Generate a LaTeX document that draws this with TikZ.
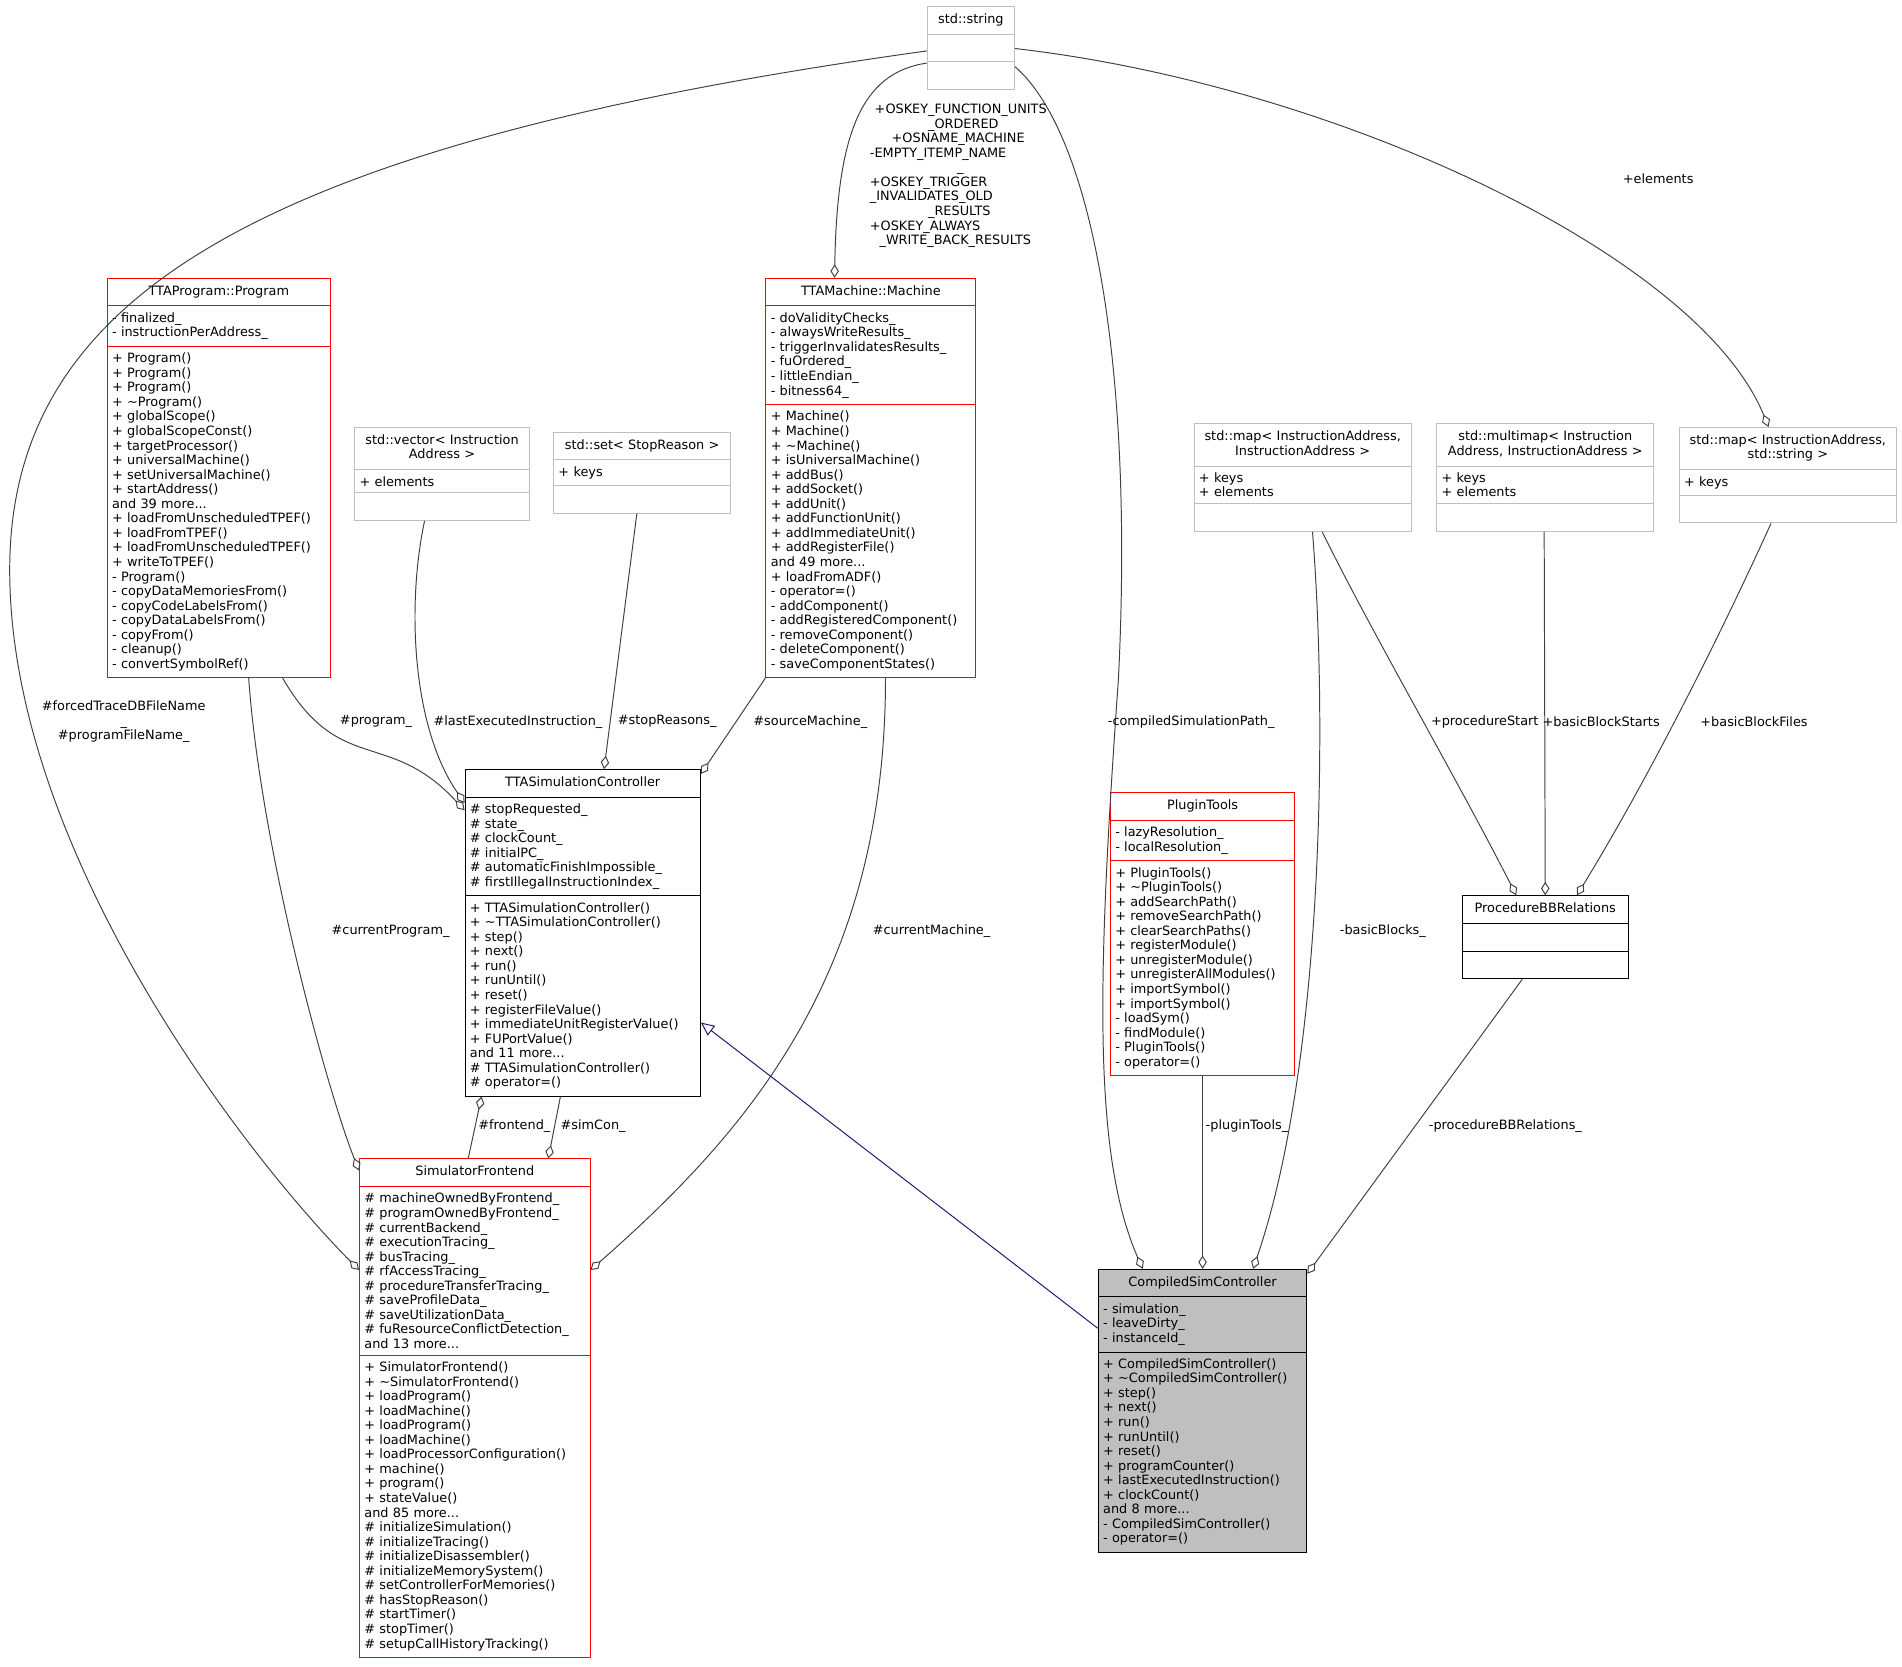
\documentclass[tikz,border=0pt]{standalone}
\usepackage{fontspec}
\setmainfont{DejaVu Sans}
\usetikzlibrary{shapes.multipart,arrows.meta}
\definecolor{edgegray}{HTML}{404040}
\definecolor{ghost}{HTML}{BFBFBF}
\definecolor{navyedge}{HTML}{191970}
\definecolor{selfgray}{HTML}{BFBFBF}
\tikzset{>={Diamond[open,length=11pt,width=7pt]}}
\newcommand{\ctitle}[1]{\makebox[\linewidth]{\strut #1}}

\begin{document}
\begin{tikzpicture}[x=1pt,y=-1pt]
        \tikzstyle{cls} = [rectangle split, rectangle split parts=3, draw, anchor=north west, line width=0.8pt,
          font=\fontsize{10.6}{12}\selectfont, align=left, inner xsep=4pt, inner ysep=5pt]
        \tikzstyle{lbl} = [font=\fontsize{10.6}{12}\selectfont, align=center, inner sep=1pt]
        \tikzstyle{agg} = [draw=edgegray, line width=0.8pt, <-]
        \useasboundingbox (0,0) rectangle (1568,1374);

        \node[cls, draw=ghost, text width=64pt] (str) at (764,5) {\ctitle{std::string}
          \nodepart{two}\strut \nodepart{three}\strut};
        \node[cls, draw=red, text width=176pt] (prog) at (88,229) {\ctitle{TTAProgram::Program}
          \nodepart{two}- finalized\_\\- instructionPerAddress\_
          \nodepart{three}+ Program()\\+ Program()\\+ Program()\\+ \textasciitilde Program()\\+ globalScope()\\+ globalScopeConst()\\+ targetProcessor()\\+ universalMachine()\\+ setUniversalMachine()\\+ startAddress()\\and 39 more...\\+ loadFromUnscheduledTPEF()\\+ loadFromTPEF()\\+ loadFromUnscheduledTPEF()\\+ writeToTPEF()\\- Program()\\- copyDataMemoriesFrom()\\- copyCodeLabelsFrom()\\- copyDataLabelsFrom()\\- copyFrom()\\- cleanup()\\- convertSymbolRef()};
        \node[cls, draw=ghost, text width=136pt] (vec) at (292,352) {\ctitle{std::vector< Instruction}\\\ctitle{Address >}
          \nodepart{two}+ elements \nodepart{three}\strut};
        \node[cls, draw=ghost, text width=138pt] (set) at (456,356) {\ctitle{std::set< StopReason >}
          \nodepart{two}+ keys \nodepart{three}\strut};
        \node[cls, draw=red, text width=165pt] (mach) at (631,229) {\ctitle{TTAMachine::Machine}
          \nodepart{two}- doValidityChecks\_\\- alwaysWriteResults\_\\- triggerInvalidatesResults\_\\- fuOrdered\_\\- littleEndian\_\\- bitness64\_
          \nodepart{three}+ Machine()\\+ Machine()\\+ \textasciitilde Machine()\\+ isUniversalMachine()\\+ addBus()\\+ addSocket()\\+ addUnit()\\+ addFunctionUnit()\\+ addImmediateUnit()\\+ addRegisterFile()\\and 49 more...\\+ loadFromADF()\\- operator=()\\- addComponent()\\- addRegisteredComponent()\\- removeComponent()\\- deleteComponent()\\- saveComponentStates()};
        \node[cls, draw=ghost, text width=171pt] (bbmap) at (984,349) {\ctitle{std::map< InstructionAddress,}\\\ctitle{InstructionAddress >}
          \nodepart{two}+ keys\\+ elements \nodepart{three}\strut};
        \node[cls, draw=ghost, text width=171pt] (startmap) at (1184,349) {\ctitle{std::multimap< Instruction}\\\ctitle{Address, InstructionAddress >}
          \nodepart{two}+ keys\\+ elements \nodepart{three}\strut};
        \node[cls, draw=ghost, text width=171pt] (filemap) at (1384,352) {\ctitle{std::map< InstructionAddress,}\\\ctitle{std::string >}
          \nodepart{two}+ keys \nodepart{three}\strut};
        \node[cls, text width=186pt] (ctrl) at (383,634) {\ctitle{TTASimulationController}
          \nodepart{two}\# stopRequested\_\\\# state\_\\\# clockCount\_\\\# initialPC\_\\\# automaticFinishImpossible\_\\\# firstIllegalInstructionIndex\_
          \nodepart{three}+ TTASimulationController()\\+ \textasciitilde TTASimulationController()\\+ step()\\+ next()\\+ run()\\+ runUntil()\\+ reset()\\+ registerFileValue()\\+ immediateUnitRegisterValue()\\+ FUPortValue()\\and 11 more...\\\# TTASimulationController()\\\# operator=()};
        \node[cls, draw=red, text width=144pt] (plug) at (915,653) {\ctitle{PluginTools}
          \nodepart{two}- lazyResolution\_\\- localResolution\_
          \nodepart{three}+ PluginTools()\\+ \textasciitilde PluginTools()\\+ addSearchPath()\\+ removeSearchPath()\\+ clearSearchPaths()\\+ registerModule()\\+ unregisterModule()\\+ unregisterAllModules()\\+ importSymbol()\\+ importSymbol()\\- loadSym()\\- findModule()\\- PluginTools()\\- operator=()};
        \node[cls, text width=129pt] (bbrel) at (1205,738) {\ctitle{ProcedureBBRelations}
          \nodepart{two}\strut \nodepart{three}\strut};
        \node[cls, draw=red, text width=182pt] (front) at (296,955) {\ctitle{SimulatorFrontend}
          \nodepart{two}\# machineOwnedByFrontend\_\\\# programOwnedByFrontend\_\\\# currentBackend\_\\\# executionTracing\_\\\# busTracing\_\\\# rfAccessTracing\_\\\# procedureTransferTracing\_\\\# saveProfileData\_\\\# saveUtilizationData\_\\\# fuResourceConflictDetection\_\\and 13 more...
          \nodepart{three}+ SimulatorFrontend()\\+ \textasciitilde SimulatorFrontend()\\+ loadProgram()\\+ loadMachine()\\+ loadProgram()\\+ loadMachine()\\+ loadProcessorConfiguration()\\+ machine()\\+ program()\\+ stateValue()\\and 85 more...\\\# initializeSimulation()\\\# initializeTracing()\\\# initializeDisassembler()\\\# initializeMemorySystem()\\\# setControllerForMemories()\\\# hasStopReason()\\\# startTimer()\\\# stopTimer()\\\# setupCallHistoryTracking()};
        \node[cls, fill=selfgray, text width=164pt] (csim) at (905,1046) {\ctitle{CompiledSimController}
          \nodepart{two}- simulation\_\\- leaveDirty\_\\- instanceId\_
          \nodepart{three}+ CompiledSimController()\\+ \textasciitilde CompiledSimController()\\+ step()\\+ next()\\+ run()\\+ runUntil()\\+ reset()\\+ programCounter()\\+ lastExecutedInstruction()\\+ clockCount()\\and 8 more...\\- CompiledSimController()\\- operator=()};

        % members
        \draw[agg] ([yshift=-92]front.north west) .. controls (200,950) and (8,700) .. (8,470)
          .. controls (8,250) and (200,120) .. ([yshift=-37]str.north west);
        \draw[agg] ([xshift=37]csim.north west) .. controls (900,950) and (905,800) .. (922,560)
          .. controls (935,300) and (900,110) .. ([yshift=-50]str.north east);
        \draw[agg] ([xshift=57]mach.north west) .. controls (690,110) and (710,60) .. ([yshift=-47]str.north west);
        \draw[agg] ([xshift=74]filemap.north west) .. controls (1400,210) and (1100,70) .. ([yshift=-35]str.north east);
        \draw[agg] ([yshift=-34]ctrl.north west) .. controls (320,600) and (280,640) .. ([xshift=145]prog.south west);
        \draw[agg] ([yshift=-28]ctrl.north west) .. controls (340,600) and (335,500) .. ([xshift=58]vec.south west);
        \draw[agg] ([xshift=115]ctrl.north west) -- ([xshift=69]set.south west);
        \draw[agg] ([yshift=-4]ctrl.north east) -- (mach.south west);
        \draw[agg] ([yshift=-10]front.north west) .. controls (270,900) and (215,700) .. ([xshift=117]prog.south west);
        \draw[agg] ([yshift=-92]front.north east) .. controls (620,930) and (730,800) .. ([xshift=99]mach.south west);
        \draw[agg] ([xshift=156]front.north west) -- ([xshift=79]ctrl.south west);
        \draw[agg] ([xshift=14]ctrl.south west) -- ([xshift=90]front.north west);
        \draw[agg] (csim.north) -- (plug.south);
        \draw[agg] ([xshift=128]csim.north west) .. controls (1090,880) and (1095,600) .. ([xshift=98]bbmap.south west);
        \draw[agg] ([yshift=-4]csim.north east) -- ([xshift=50]bbrel.south west);
        \draw[agg] ([xshift=45]bbrel.north west) .. controls (1200,640) and (1130,520) .. ([xshift=106]bbmap.south west);
        \draw[agg] (bbrel.north) -- ([xshift=89]startmap.south west);
        \draw[agg] ([xshift=95]bbrel.north west) .. controls (1360,640) and (1420,520) .. ([xshift=76]filemap.south west);
        % base class
        \draw[draw=navyedge, line width=0.8pt, -{Triangle[open,length=11pt,width=10pt]}] ([yshift=-49]csim.north west) -- ([yshift=-209]ctrl.north east);

        \node[lbl] (l1) at (102,595) {\#forcedTraceDBFileName\\\_\\\#programFileName\_};
        \node[lbl] (l2) at (982,595) {-compiledSimulationPath\_};
        \node[lbl, align=left] (l3) at (790,145) {\hspace*{4pt}+OSKEY\_FUNCTION\_UNITS\\\hspace*{48pt}\_ORDERED\\\hspace*{18pt}+OSNAME\_MACHINE\\-EMPTY\_ITEMP\_NAME\\\hspace*{72pt}\_\\+OSKEY\_TRIGGER\\\_INVALIDATES\_OLD\\\hspace*{48pt}\_RESULTS\\+OSKEY\_ALWAYS\\\hspace*{8pt}\_WRITE\_BACK\_RESULTS};
        \node[lbl] (l4) at (1367,147) {+elements};
        \node[lbl] (l5) at (310,595) {\#program\_};
        \node[lbl] (l6) at (427,595) {\#lastExecutedInstruction\_};
        \node[lbl] (l7) at (550,595) {\#stopReasons\_};
        \node[lbl] (l8) at (668,595) {\#sourceMachine\_};
        \node[lbl] (l9) at (322,768) {\#currentProgram\_};
        \node[lbl] (l10) at (768,768) {\#currentMachine\_};
        \node[lbl] (l11) at (489,928) {\#simCon\_};
        \node[lbl] (l12) at (424,928) {\#frontend\_};
        \node[lbl] (l13) at (1028,928) {-pluginTools\_};
        \node[lbl] (l14) at (1140,768) {-basicBlocks\_};
        \node[lbl] (l15) at (1241,928) {-procedureBBRelations\_};
        \node[lbl] (l16) at (1224,595) {+procedureStart};
        \node[lbl] (l17) at (1320,595) {+basicBlockStarts};
        \node[lbl] (l18) at (1446,595) {+basicBlockFiles};
      \end{tikzpicture}
\end{document}
